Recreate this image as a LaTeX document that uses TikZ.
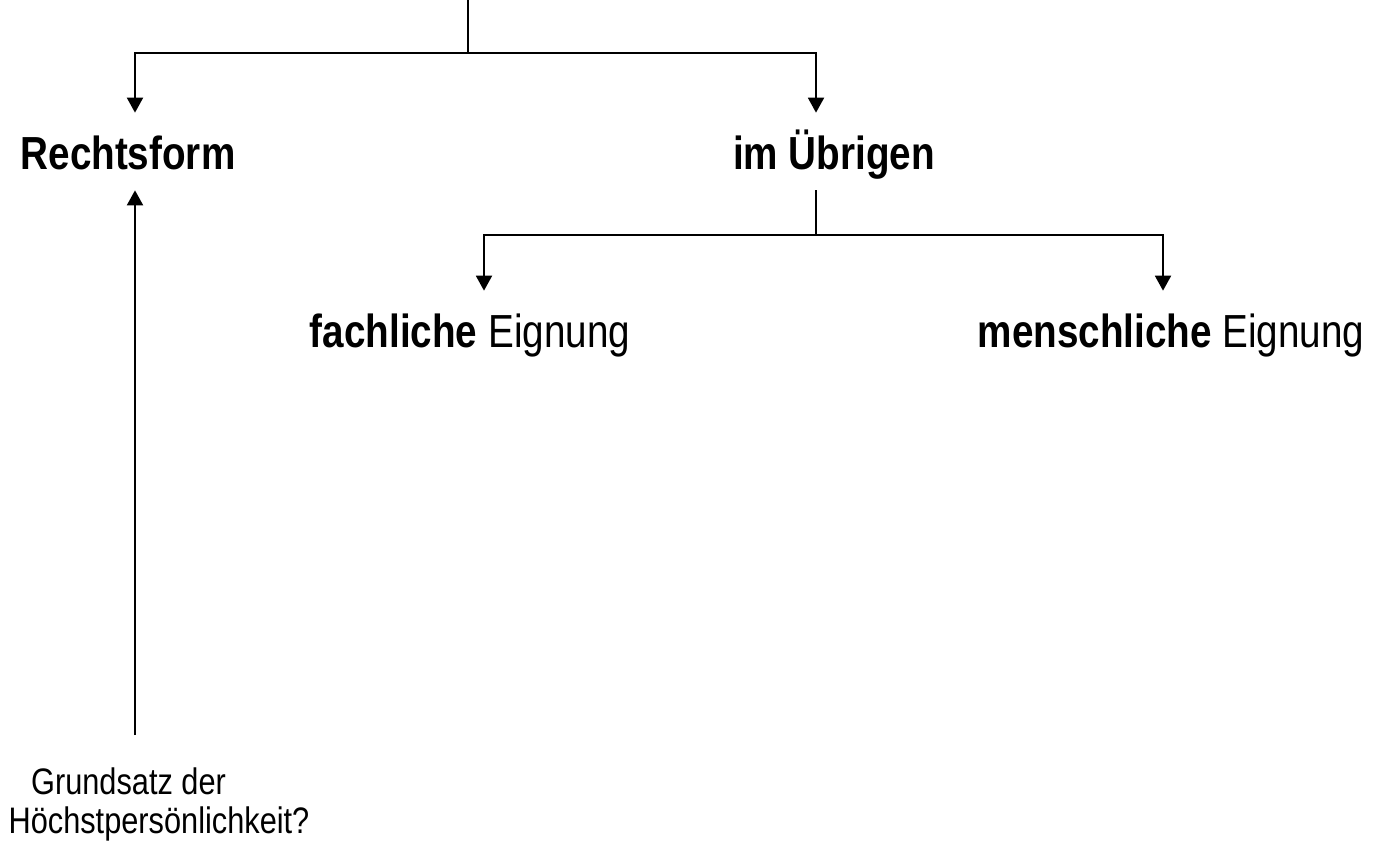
\documentclass[tikz,border=0pt]{standalone}
\usepackage{fontspec}
\setmainfont{Liberation Sans}
\usetikzlibrary{arrows.meta, positioning}
\newcommand{\hoch}[1]{\scalebox{1}[1.2]{#1}}
\tikzstyle{knoten} = [
  anchor=base,
  inner sep=0pt,
  text height=1.14cm,
  text depth=0.4cm,
  font=\fontsize{22}{26}\selectfont
]
\tikzstyle{frage} = [
  anchor=north,
  inner xsep=0pt,
  inner ysep=0.64cm,
  align=center,
  font=\fontsize{17.5}{22.2}\selectfont
]
\tikzstyle{linie} = [line width=1.1pt]
\tikzstyle{pfeil} = [linie, -{Triangle[width=0.32cm,length=0.3cm]}]

\begin{document}
\begin{tikzpicture}[x=0.02cm, y=-0.02cm]
    \useasboundingbox (0,0) rectangle (1378,847);

    \node (rechtsform) [knoten] at (128,170) {\hoch{\textbf{Rechtsform}}};
    \node (uebrigen) [knoten] at (834,170) {\hoch{\textbf{im Übrigen}}};
    \node (fachlich) [knoten] at (470,348) {\hoch{\textbf{fachliche} Eignung}};
    \node (menschlich) [knoten] at (1171,348) {\hoch{\textbf{menschliche} Eignung}};
    \node (grundsatz) [frage] at (159,735) {\hoch{Grundsatz der}\kern1.22cm\null\\\hoch{Höchstpersönlichkeit?}};

    \coordinate (wurzel) at (468,0);
    \coordinate (ast1) at (468,53);
    \coordinate (ast1-links) at (135,53);
    \coordinate (ast1-rechts) at (816,53);
    \coordinate (ast2) at (816,235);
    \coordinate (ast2-links) at (484,235);
    \coordinate (ast2-rechts) at (1163,235);

    \draw [linie] (wurzel) -- (ast1);
    \draw [pfeil] (ast1) -- (ast1-links) -- (ast1-links |- rechtsform.north);
    \draw [pfeil] (ast1) -- (ast1-rechts) -- (ast1-rechts |- uebrigen.north);
    \draw [linie] (ast1-rechts |- uebrigen.south) -- (ast2);
    \draw [pfeil] (ast2) -- (ast2-links) -- (ast2-links |- fachlich.north);
    \draw [pfeil] (ast2) -- (ast2-rechts) -- (ast2-rechts |- menschlich.north);
    \draw [pfeil] (ast1-links |- grundsatz.north) -- (ast1-links |- rechtsform.south);
\end{tikzpicture}
\end{document}
